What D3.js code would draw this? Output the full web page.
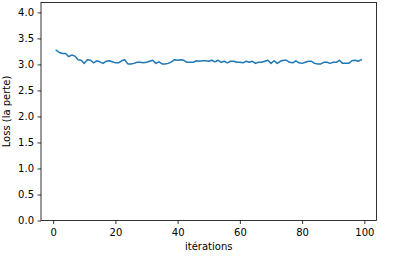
<!DOCTYPE html>
<meta charset="utf-8">
<script src="https://d3js.org/d3.v7.min.js"></script>
<style>
  body { margin: 0; background: #fff; }
  text { font-family: "DejaVu Sans", sans-serif; }
</style>
<div id="chart"></div>
<script>
// loss per iteration
var iterations = d3.range(1, 100);
var loss = [
  3.27, 3.23, 3.21, 3.21, 3.15, 3.18, 3.16, 3.09, 3.08, 3.02,
  3.09, 3.08, 3.03, 3.07, 3.05, 3.02, 3.06, 3.07, 3.05, 3.03,
  3.03, 3.07, 3.09, 3.01, 3.01, 3.02, 3.04, 3.04, 3.03, 3.04,
  3.06, 3.08, 3.02, 3.05, 3.01, 3.01, 3.02, 3.05, 3.09, 3.08,
  3.09, 3.08, 3.04, 3.04, 3.04, 3.07, 3.06, 3.07, 3.07, 3.06,
  3.08, 3.05, 3.08, 3.04, 3.06, 3.03, 3.06, 3.06, 3.04, 3.04,
  3.03, 3.06, 3.04, 3.06, 3.02, 3.04, 3.04, 3.06, 3.08, 3.02,
  3.07, 3.02, 3.06, 3.08, 3.08, 3.04, 3.03, 3.07, 3.03, 3.02,
  3.04, 3.06, 3.06, 3.02, 3.01, 3.01, 3.04, 3.04, 3.02, 3.04,
  3.04, 3.08, 3.02, 3.02, 3.02, 3.07, 3.08, 3.06, 3.09
];
var xTicks = [0, 20, 40, 60, 80, 100];
var yTicks = [0, 0.5, 1, 1.5, 2, 2.5, 3, 3.5, 4];

var margin = {top: 2.5, right: 18.5, bottom: 40.5, left: 41},
    width = 395 - margin.left - margin.right,
    height = 261 - margin.top - margin.bottom;

var svg = d3.select("#chart")
  .append("svg")
    .attr("width", 395)
    .attr("height", 261)
  .append("g")
    .attr("transform", "translate(" + margin.left + "," + margin.top + ")");

var x = d3.scaleLinear()
  .domain([-3.9, 103.9])
  .range([0, width]);

var y = d3.scaleLinear()
  .domain([0, 4.19])
  .range([height, 0]);

// axes
var xAxis = svg.append("g")
  .attr("transform", "translate(0," + height + ")")
  .call(d3.axisBottom(x).tickValues(xTicks).tickSize(3.5).tickPadding(4.5).tickFormat(d3.format("d")));

var yAxis = svg.append("g")
  .call(d3.axisLeft(y).tickValues(yTicks).tickSize(3.5).tickPadding(3.5).tickFormat(d3.format(".1f")));

[xAxis, yAxis].forEach(function(a) {
  a.select(".domain").remove();
  a.selectAll("line").attr("stroke", "#000").attr("stroke-width", 0.8);
  a.selectAll("text").attr("fill", "#000").style("font-size", "10px");
});

// frame
svg.append("rect")
  .attr("width", width)
  .attr("height", height)
  .attr("fill", "none")
  .attr("stroke", "#000")
  .attr("stroke-width", 0.8);

// line
svg.append("path")
  .datum(iterations)
  .attr("fill", "none")
  .attr("stroke", "#1f77b4")
  .attr("stroke-width", 1.5)
  .attr("stroke-linejoin", "round")
  .attr("stroke-linecap", "square")
  .attr("d", d3.line()
    .x(function(d, i) { return x(d); })
    .y(function(d, i) { return y(loss[i]); }));

// labels
svg.append("text")
  .attr("x", width / 2)
  .attr("y", height + 29.5)
  .attr("text-anchor", "middle")
  .style("font-size", "10px")
  .text("itérations");

svg.append("text")
  .attr("transform", "translate(" + (-31.5) + "," + (height / 2) + ") rotate(-90)")
  .attr("text-anchor", "middle")
  .style("font-size", "10px")
  .text("Loss (la perte)");
</script>
